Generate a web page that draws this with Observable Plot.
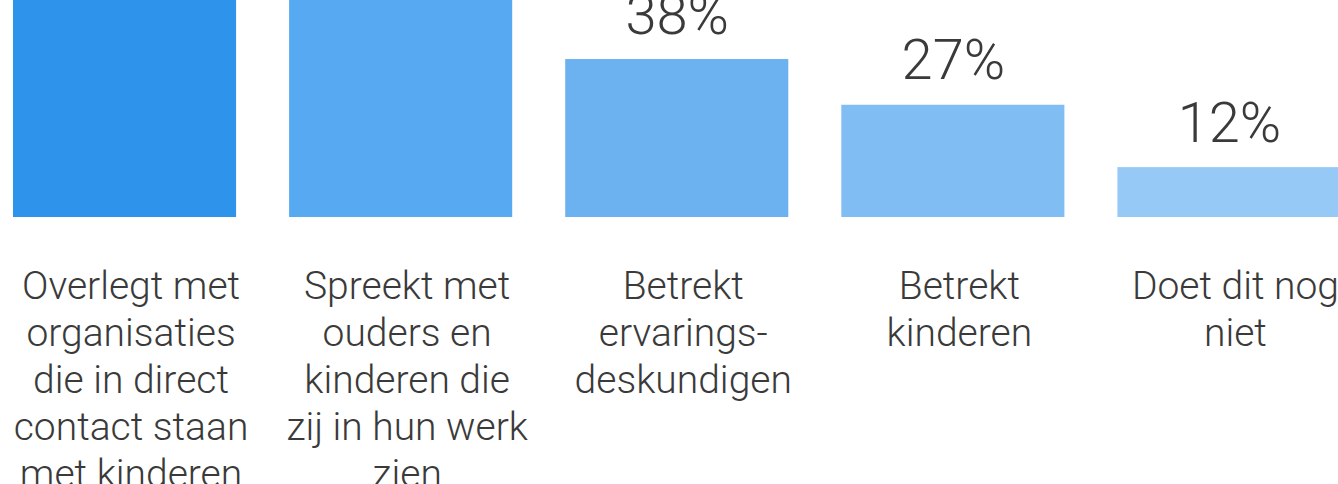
<!DOCTYPE html>
<html>
<head>
<meta charset="utf-8">
<script src="https://cdn.jsdelivr.net/npm/d3@7"></script>
<script src="https://cdn.jsdelivr.net/npm/@observablehq/plot@0.6"></script>
<style>
  html, body { margin: 0; padding: 0; background: #ffffff; overflow: hidden; }
  #chart svg { overflow: hidden; display: block; }
</style>
</head>
<body>
<div id="chart"></div>
<script>
// Categories (x-axis labels, with the line breaks as shown)
const categories = [
  "Overlegt met\norganisaties\ndie in direct\ncontact staan\nmet kinderen",
  "Spreekt met\nouders en\nkinderen die\nzij in hun werk\nzien",
  "Betrekt\nervarings-\ndeskundigen",
  "Betrekt\nkinderen",
  "Doet dit nog\nniet"
];
// Percentages (first two bars run off the top of the picture; estimated)
const values = [78, 65, 38, 27, 12];
// Bar colours
const colors = ["#2e94eb", "#57a9f1", "#6cb2f0", "#80bdf2", "#96c9f5"];

const data = categories.map((c, i) => ({cat: c, value: values[i]}));

const chart = Plot.plot({
  width: 1338,
  height: 484,
  marginTop: 0,
  marginBottom: 267,
  marginLeft: 13,
  marginRight: 0,
  style: {fontFamily: "Roboto, 'Open Sans', sans-serif", background: "#ffffff", overflow: "hidden"},
  x: {domain: categories, range: [13, 1340.5], round: false, paddingInner: 0.192, paddingOuter: 0, align: 0, axis: null},
  y: {domain: [0, 52.2], axis: null},
  color: {domain: categories, range: colors},
  marks: [
    Plot.barY(data, {x: "cat", y: "value", fill: "cat", clip: "frame"}),
    Plot.text(data, {
      x: "cat", y: "value", text: d => d.value + "%",
      lineAnchor: "bottom", dy: -26, fontSize: 56, fontWeight: 300, fill: "#3a3a3a"
    }),
    Plot.text(data, {
      x: "cat", frameAnchor: "bottom", text: "cat",
      lineAnchor: "top", dy: 48, dx: 6, fontSize: 39, lineHeight: 1.205,
      fontWeight: 300, fill: "#3a3a3a"
    })
  ]
});
document.getElementById("chart").appendChild(chart);
</script>
</body>
</html>
